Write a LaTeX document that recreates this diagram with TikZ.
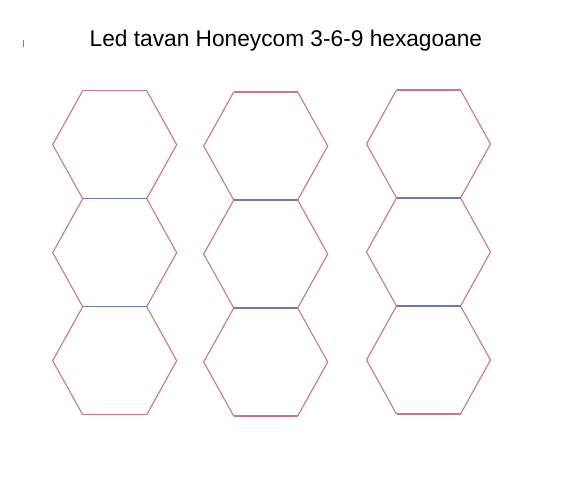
\documentclass[tikz,border=0pt]{standalone}
\usepackage{fontspec}
\setmainfont{Liberation Sans}
\definecolor{hexred}{RGB}{200,120,135}
\definecolor{hexblue}{RGB}{110,122,182}
\tikzset{
  hexside/.style={draw=hexred, line width=1.1pt, line join=miter},
  hexjoint/.style={draw=hexblue, line width=1.1pt},
  titletext/.style={font=\fontsize{22.7}{26}\selectfont, anchor=base west, inner sep=0pt}
}
% \hexcol{name}{cx}{top y}
\newcommand{\hexcol}[3]{%
  \foreach \k in {0,1,2} {
    \pgfmathsetmacro{\yt}{#3+\k*108}
    \pgfmathsetmacro{\ym}{\yt+54}
    \pgfmathsetmacro{\yb}{\yt+108}
    \coordinate (#1-\k-tl) at (#2-32,\yt);
    \coordinate (#1-\k-tr) at (#2+32,\yt);
    \coordinate (#1-\k-r) at (#2+62,\ym);
    \coordinate (#1-\k-br) at (#2+32,\yb);
    \coordinate (#1-\k-bl) at (#2-32,\yb);
    \coordinate (#1-\k-l) at (#2-62,\ym);
    \path[hexside] (#1-\k-bl) -- (#1-\k-l) -- (#1-\k-tl);
    \path[hexside] (#1-\k-tr) -- (#1-\k-r) -- (#1-\k-br);
  }
  \path[hexside] (#1-0-tl) -- (#1-0-tr);
  \path[hexside] (#1-2-bl) -- (#1-2-br);
  \path[hexjoint] (#1-0-bl) -- (#1-0-br);
  \path[hexjoint] (#1-1-bl) -- (#1-1-br);
}
\begin{document}
\begin{tikzpicture}[x=1pt,y=-1pt]
\useasboundingbox[fill=white] (0,0) rectangle (580,499);
\node[titletext] (title) at (89.5,46.7) {Led tavan Honeycom 3-6-9 hexagoane};
\draw[gray, line width=0.8pt] (23.5,39.5) -- (23.5,46.5);
\hexcol{a}{114.7}{90.7}
\hexcol{b}{265.7}{92}
\hexcol{c}{428.5}{90}
\end{tikzpicture}
\end{document}
